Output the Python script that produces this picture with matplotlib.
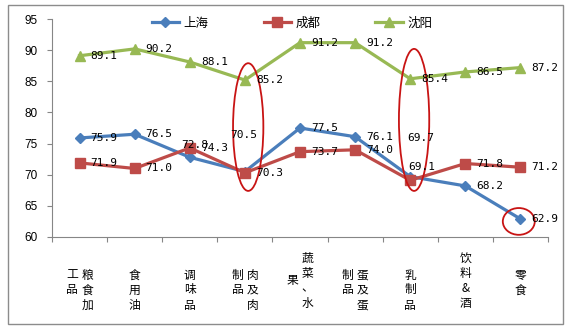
import matplotlib
matplotlib.use('Agg')
import matplotlib.pyplot as plt
from matplotlib.patches import Ellipse, Rectangle
import matplotlib.transforms as mtransforms

# ---------------- data ----------------
categories = ['粮食加工品', '食用油', '调味品', '肉及肉制品', '蔬菜、水果',
              '蛋及蛋制品', '乳制品', '饮料&酒', '零食']
# vertical (East-Asian) tick labels: columns listed right-to-left
category_columns = [['粮食加', '工品'], ['食用油'], ['调味品'], ['肉及肉', '制品'],
                    ['蔬菜、水', '果'], ['蛋及蛋', '制品'], ['乳制品'], ['饮料&酒'], ['零食']]
series_names = ['上海', '成都', '沈阳']
shanghai = [75.9, 76.5, 72.8, 70.5, 77.5, 76.1, 69.7, 68.2, 62.9]
chengdu = [71.9, 71.0, 74.3, 70.3, 73.7, 74.0, 69.1, 71.8, 71.2]
shenyang = [89.1, 90.2, 88.1, 85.2, 91.2, 91.2, 85.4, 86.5, 87.2]
y_ticks = [60, 65, 70, 75, 80, 85, 90, 95]

# ---------------- style ----------------
CJK = ['Noto Sans CJK SC', 'DejaVu Sans']
colors = ['#4A7EBB', '#BE4B48', '#98B954']
markers = ['D', 's', '^']
msizes = [5.0, 6.5, 7.5]

W, H = 578, 331
fig = plt.figure(figsize=(W / 100, H / 100), dpi=100)
fig.patch.set_facecolor('white')
ax = fig.add_axes([52 / W, 1 - 237 / H, 496 / W, 218 / H])

x = list(range(len(categories)))
all_series = [shanghai, chengdu, shenyang]
handles = []
for name, vals, c, m, ms in zip(series_names, all_series, colors, markers, msizes):
    ln, = ax.plot(x, vals, color=c, lw=2.3, marker=m, ms=ms, mfc=c, mec=c,
                  label=name, zorder=3, clip_on=False)
    handles.append(ln)

# data labels (pixel offsets from the point; default: right of point)
special = {
    (0, 2): (5, 12, 'center'),
    (0, 3): (-1, 37, 'center'),
    (0, 6): (11, 39, 'center'),
    (1, 6): (12, 13, 'center'),
}
for si, vals in enumerate(all_series):
    for i, v in enumerate(vals):
        dx, dy, ha = special.get((si, i), (11, 0, 'left'))
        ax.annotate(f'{v:.1f}', (i, v), xytext=(dx, dy), textcoords='offset pixels',
                    ha=ha, va='center', fontsize=8, family='DejaVu Sans Mono',
                    color='black', zorder=5, annotation_clip=False)

ax.set_xlim(-0.5, len(categories) - 0.5)
ax.set_ylim(60, 95)
ax.set_yticks(y_ticks)
ax.set_yticklabels([str(t) for t in y_ticks], fontsize=8.5, family='Liberation Sans')
ax.tick_params(axis='y', direction='out', length=5 * 0.72, width=0.8, color='#868686', pad=7)
ax.set_xticks([])
ax.set_xticks([i - 0.5 for i in range(len(categories) + 1)], minor=True)
ax.tick_params(axis='x', which='minor', direction='out', length=5 * 0.72, width=0.8,
               color='#868686', labelbottom=False)
for s in ['top', 'right']:
    ax.spines[s].set_visible(False)
for s in ['left', 'bottom']:
    ax.spines[s].set_color('#868686')
    ax.spines[s].set_linewidth(0.8)

# vertical category labels
base = mtransforms.blended_transform_factory(ax.transData, ax.transAxes)
row_step = 15
col_step = 15
for i, cols in enumerate(category_columns):
    n_cols = len(cols)
    first_len = len(cols[0])
    top = 21 if first_len >= 4 else 38
    for ci, col in enumerate(cols):
        xoff = (n_cols - 1) / 2 * col_step - ci * col_step
        if first_len >= 4 and ci > 0:
            ctop = top + (first_len - len(col)) / 2 * row_step
        else:
            ctop = top
        for ri, ch in enumerate(col):
            t = mtransforms.offset_copy(base, fig=fig, x=xoff, y=-(ctop + ri * row_step),
                                        units='dots')
            ax.text(i, 0, ch, transform=t, ha='center', va='center', fontsize=8.5,
                    family=CJK, color='black', clip_on=False)

# highlight ellipses
ring = '#C81414'
ax.add_patch(Ellipse((3.06, 77.65), 0.55, 20.5, fill=False, ec=ring, lw=1.3,
                     clip_on=False, zorder=4))
ax.add_patch(Ellipse((6.07, 78.8), 0.55, 22.8, fill=False, ec=ring, lw=1.3,
                     clip_on=False, zorder=4))
ax.add_patch(Ellipse((7.97, 62.5), 0.58, 4.3, fill=False, ec=ring, lw=1.3,
                     clip_on=False, zorder=4))

# legend
fig.legend(handles=handles, labels=series_names, loc='center',
           bbox_to_anchor=(292 / W, 1 - 23 / H), ncol=3, frameon=False,
           prop={'family': CJK, 'size': 9}, handlelength=2.2, handletextpad=0.35,
           columnspacing=4.4, numpoints=1)

# outer chart border
fig.add_artist(Rectangle((8 / W, 1 - 324 / H), (563 - 8) / W, (324 - 5) / H,
                         transform=fig.transFigure, fill=False, ec='#8C8C8C', lw=1.0))

fig.savefig('out.png', dpi=100, facecolor='white')
